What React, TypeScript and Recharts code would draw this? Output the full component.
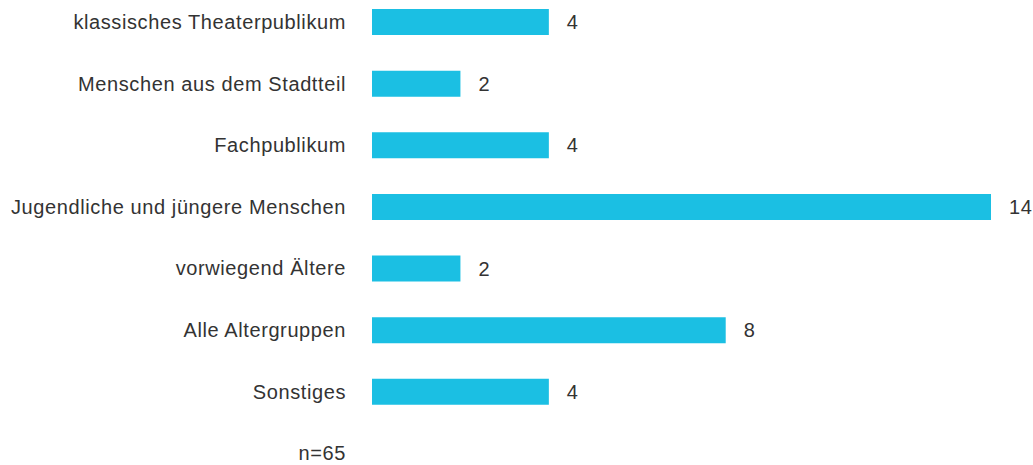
import { BarChart, Bar, XAxis, YAxis, LabelList } from 'recharts'

const categories = [
    'klassisches Theaterpublikum',
    'Menschen aus dem Stadtteil',
    'Fachpublikum',
    'Jugendliche und jüngere Menschen',
    'vorwiegend Ältere',
    'Alle Altergruppen',
    'Sonstiges',
    'n=65'
]
const counts: Array<number | null> = [4, 2, 4, 14, 2, 8, 4, null]

const data = categories.map((name, i) => ({ name, value: counts[i] }))

const font = '"Liberation Sans", Arial, sans-serif'
const textStyle = { fill: '#333333', fontSize: 20, fontFamily: font, letterSpacing: 0.6 }

export default function App() {
    return (
        <div style={{ position: 'absolute', left: 0, top: 0, width: 1033, height: 465, overflow: 'hidden', background: '#fff' }}>
            <div style={{ position: 'absolute', left: 0, top: -9 }}>
                <BarChart width={1033} height={500} data={data} layout="vertical" margin={{ top: 0, right: 42, bottom: 7, left: 0 }}>
                    <XAxis type="number" domain={[0, 14]} hide />
                    <YAxis
                        type="category"
                        dataKey="name"
                        width={372}
                        axisLine={false}
                        tickLine={false}
                        tickSize={0}
                        tickMargin={26}
                        interval={0}
                        tick={textStyle}
                    />
                    <Bar dataKey="value" fill="#1bbfe3" barSize={26} isAnimationActive={false}>
                        <LabelList dataKey="value" position="right" offset={18} style={textStyle} />
                    </Bar>
                </BarChart>
            </div>
        </div>
    )
}
